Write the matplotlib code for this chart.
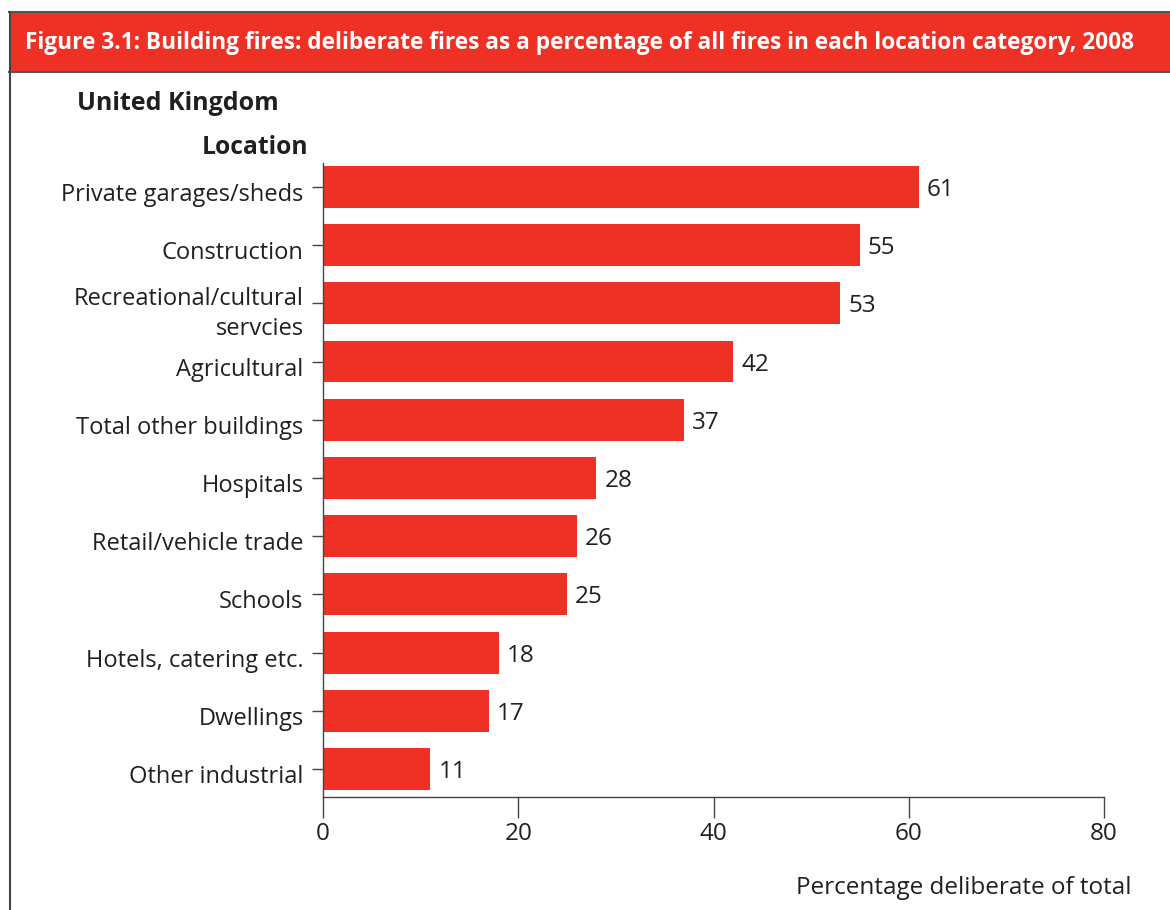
import matplotlib.pyplot as plt
import matplotlib.transforms as mtransforms
from matplotlib.patches import Rectangle
from matplotlib.lines import Line2D

plt.rcParams['font.family'] = ['Open Sans', 'DejaVu Sans']

RED = '#ee3124'
INK = '#231f20'

locations = ['Private garages/sheds', 'Construction', 'Recreational/cultural\nservcies',
             'Agricultural', 'Total other buildings', 'Hospitals', 'Retail/vehicle trade',
             'Schools', 'Hotels, catering etc.', 'Dwellings', 'Other industrial']
pct_deliberate = [61, 55, 53, 42, 37, 28, 26, 25, 18, 17, 11]
xticks = [0, 20, 40, 60, 80]

W, H = 1170, 910
fig = plt.figure(figsize=(W / 100, H / 100), dpi=100)

# header banner and frame
fig.patches.append(Rectangle((9 / W, 1 - 72 / H), 1.0, 60 / H, transform=fig.transFigure,
                             facecolor=RED, edgecolor='none'))
for yy in (12, 72):
    fig.lines.append(Line2D([9 / W, 1], [1 - yy / H] * 2, transform=fig.transFigure,
                            color='#555555', lw=1.5))
fig.lines.append(Line2D([9.5 / W] * 2, [0, 1 - 12 / H], transform=fig.transFigure,
                        color='#444444', lw=1.5))
fig.text(25 / W, 1 - 43 / H,
         'Figure 3.1: Building fires: deliberate fires as a percentage of all fires in each location category, 2008',
         color='white', fontsize=16.3, fontweight='bold', va='center', ha='left')
fig.text(77 / W, 1 - 104 / H, 'United Kingdom', color=INK, fontsize=18, fontweight='bold',
         va='center', ha='left')
fig.text(308 / W, 1 - 148 / H, 'Location', color=INK, fontsize=17.7, fontweight='bold',
         va='center', ha='right')

ax = fig.add_axes([323 / W, (H - 797) / H, (1104 - 323) / W, (797 - 163) / H])
ypos = list(range(len(locations)))
ax.barh(ypos, pct_deliberate, height=0.72, color=RED)
for y, v in zip(ypos, pct_deliberate):
    ax.annotate(str(v), (v, y), xytext=(8, -3), textcoords='offset pixels',
                va='center', ha='left', fontsize=17.5, color=INK)

ax.set_xlim(0, 80)
ax.set_ylim(10.48, -0.41)
ax.set_xticks(xticks)
ax.set_yticks(ypos)
ax.set_yticklabels(locations, fontsize=17, color=INK, ha='right', linespacing=1.3)
ax.tick_params(axis='x', length=15, width=1, colors='#444444', labelcolor=INK, labelsize=17.5, pad=3)
ax.tick_params(axis='y', length=8, width=1, colors='#444444', labelcolor=INK, pad=6)
# labels sit a little below their ticks
shift = mtransforms.ScaledTranslation(0, -5 / 100, fig.dpi_scale_trans)
for lab in ax.get_yticklabels():
    lab.set_transform(lab.get_transform() + shift)
for s in ('top', 'right'):
    ax.spines[s].set_visible(False)
for s in ('left', 'bottom'):
    ax.spines[s].set_color('#444444')
    ax.spines[s].set_linewidth(1)

fig.text(1131 / W, 1 - 888 / H, 'Percentage deliberate of total', color=INK, fontsize=17.5,
         va='center', ha='right')

fig.savefig('out.png', dpi=100)
